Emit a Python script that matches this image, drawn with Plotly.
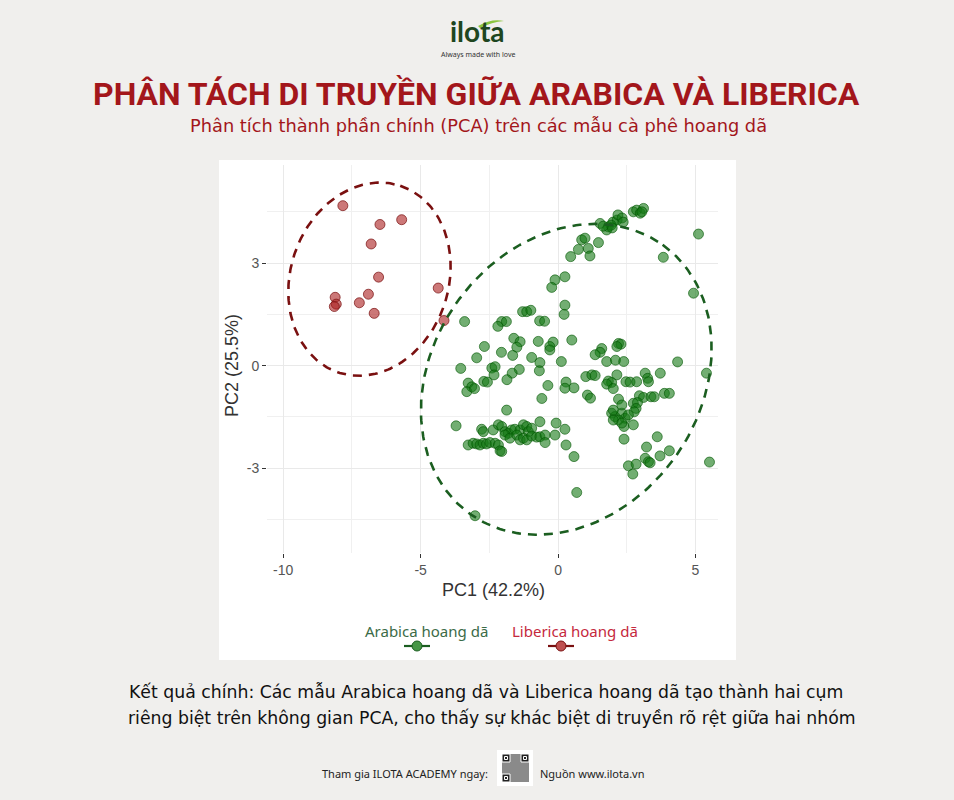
import numpy as np
import plotly.graph_objects as go

# ---------------- data (PC scores) ----------------
liberica_pc1 = [-7.83, -6.48, -5.69, -6.80, -6.53, -4.36, -8.11, -6.90, -7.23, -8.07, -8.14, -6.69, -4.15]
liberica_pc2 = [4.68, 4.13, 4.27, 3.56, 2.59, 2.27, 2.00, 2.09, 1.84, 1.80, 1.73, 1.53, 1.32]

arabica_pc1 = [
    1.53, 1.83, 1.77, 2.00, 2.15, 2.18, 2.33, 2.37, 1.93, 2.74, 2.86, 2.99, 3.11, 3.05, 1.97, 1.64,
    0.86, 0.98, 0.74, 1.10, 1.47, 1.16, 0.46, 5.11, 3.83, -0.11, 0.25, -0.23, 4.93, 0.25, 0.22,
    -1.29, -1.14, -0.99, -3.40, -2.05, -1.88, -2.19, -0.67, -0.49, -1.61, -1.38, -1.50, -0.72,
    -0.18, -0.30, -0.30, 0.50, -2.68, -2.06, -2.96, -1.65, -0.96, -0.66, -0.68, 0.12, -3.54,
    -2.41, -2.29, -2.33, -1.41, -1.67, -1.86, -3.27, -3.14, -3.32, -3.04, -2.70, -2.57, -0.37,
    0.29, 0.25, 0.58, -0.59, -1.87,
    2.20, 2.29, 2.14, 1.59, 1.53, 1.35, 1.77, 2.09, 2.39, 4.35, 5.40, 1.01, 1.23, 1.35, 1.83,
    1.95, 2.14, 1.77, 2.01, 2.47, 2.62, 2.86, 3.17, 3.26, 3.29, 3.72, 1.07, 1.18, 2.20, 2.96,
    3.11, 3.38, 3.50, 3.87, 4.05, 2.74, 2.89, 2.84, 2.77, 1.95, 2.07, 2.32, 2.44, 2.56, 2.20,
    2.01, 2.32, 2.01, 2.40, 2.74, 2.32, 2.40, 3.61, 3.22, 3.17, 3.29, 3.35, 3.71, 4.05, 2.56,
    2.84, 2.72, 5.51, 0.58, 0.68, -3.02,
    -3.71, -2.78, -2.72, -2.36, -2.17, -2.05, -1.93, -1.81, -1.69, -1.57, -1.38, -1.26, -1.14,
    -1.08, -0.96, -0.66, -0.07, 0.25, -3.27, -3.09, -2.96, -2.84, -2.72, -2.60, -2.48, -2.29,
    -2.17, -2.11, -2.05, -1.93, -1.75, -1.50, -1.38, -1.26, -1.14, -0.96, -0.78, -0.66, -0.47,
    -0.47, -0.11, 0.29,
]
arabica_pc2 = [
    4.16, 4.06, 3.97, 4.20, 4.26, 4.41, 4.32, 4.20, 4.11, 4.50, 4.55, 4.46, 4.60, 4.50, 4.03, 4.08,
    3.68, 3.73, 3.40, 3.43, 3.60, 3.21, 3.19, 3.85, 3.17, 2.51, 2.60, 2.29, 2.12, 1.77, 1.50,
    1.58, 1.58, 1.62, 1.29, 1.29, 1.29, 1.15, 1.31, 1.30, 0.80, 0.70, 0.54, 0.71,
    0.69, 0.56, 0.46, 0.75, 0.56, 0.39, 0.23, 0.30, 0.24, 0.09, -0.15, 0.12, -0.08,
    -0.07, -0.03, -0.27, -0.11, -0.22, -0.41, -0.51, -0.62, -0.76, -0.67, -0.46, -0.48, -0.58,
    -0.48, -0.66, -0.65, -0.96, -1.30,
    0.65, 0.63, 0.56, 0.50, 0.39, 0.32, 0.12, 0.16, 0.12, 0.11, -0.22, -0.32, -0.27, -0.29, -0.45,
    -0.49, -0.27, -0.54, -0.67, -0.47, -0.48, -0.47, -0.22, -0.37, -0.47, -0.22, -0.86, -0.95, -0.98, -0.88,
    -0.93, -0.91, -0.91, -0.81, -0.81, -1.10, -1.08, -1.25, -1.35, -1.39, -1.49, -1.39, -1.54, -1.44, -1.59,
    -1.59, -1.15, -1.30, -1.78, -1.73, -1.68, -2.15, -2.08, -2.38, -2.71, -2.81, -2.84, -2.64, -2.49, -2.93,
    -2.88, -3.17, -2.82, -2.66, -3.71, -4.39,
    -1.76, -1.86, -1.93, -1.88, -1.73, -1.78, -1.93, -1.98, -1.88, -1.86, -1.88, -1.73, -1.78,
    -1.93, -1.83, -1.64, -1.68, -1.86, -2.32, -2.27, -2.29, -2.32, -2.27, -2.29, -2.25, -2.27,
    -2.32, -2.49, -2.51, -2.03, -2.12, -2.03, -2.17, -2.12, -2.17, -2.06, -2.09, -2.08, -2.03,
    -2.25, -2.03, -2.32,
]

# confidence ellipses: centre and two semi-axis vectors (data units)
liberica_ell_center = (-6.86, 2.53)
liberica_ell_u = (1.118, 2.733)
liberica_ell_v = (2.735, -0.722)
arabica_ell_center = (0.30, -0.40)
arabica_ell_u = (3.506, 3.935)
arabica_ell_v = (3.960, -2.277)

x_ticks = [-10, -5, 0, 5]
x_ticklabels = ["-10", "-5", "0", "5"]
y_ticks = [-3, 0, 3]
y_ticklabels = ["-3", "0", "3"]
x_minor = [-7.5, -2.5, 2.5]
y_minor = [-4.5, -1.5, 1.5, 4.5]

# ---------------- layout geometry ----------------
W, H = 954, 800
L, R, T, B = 267, 718, 165, 553


def px(x):
    return (x - L) / (R - L)


def py(y):
    return (B - y) / (B - T)


def ellipse(center, u, v, n=240):
    t = np.linspace(0, 2 * np.pi, n)
    return (center[0] + u[0] * np.cos(t) + v[0] * np.sin(t),
            center[1] + u[1] * np.cos(t) + v[1] * np.sin(t))


fig = go.Figure()

fig.add_trace(go.Scatter(
    x=arabica_pc1, y=arabica_pc2, mode="markers", name="Arabica hoang dã",
    marker=dict(size=10, color="rgba(20,120,20,0.6)", line=dict(color="rgba(0,85,0,0.6)", width=1)),
    showlegend=False))
fig.add_trace(go.Scatter(
    x=liberica_pc1, y=liberica_pc2, mode="markers", name="Liberica hoang dã",
    marker=dict(size=10, color="rgba(170,30,30,0.6)", line=dict(color="rgba(120,15,15,0.7)", width=1)),
    showlegend=False))

ex, ey = ellipse(arabica_ell_center, arabica_ell_u, arabica_ell_v)
fig.add_trace(go.Scatter(x=ex, y=ey, mode="lines", hoverinfo="skip", showlegend=False,
                         line=dict(color="#1b5e20", width=2.6, dash="9px,7px")))
ex, ey = ellipse(liberica_ell_center, liberica_ell_u, liberica_ell_v)
fig.add_trace(go.Scatter(x=ex, y=ey, mode="lines", hoverinfo="skip", showlegend=False,
                         line=dict(color="#7a1010", width=2.6, dash="9px,7px")))

axis_common = dict(
    showgrid=True, gridcolor="#e9e9e9", gridwidth=1.2, zeroline=False, showline=False,
    ticks="outside", ticklen=4, tickwidth=1.2, tickcolor="#333333",
    tickfont=dict(family="Liberation Sans, Arial", size=14, color="#555555"),
)
fig.update_xaxes(range=[-10.59, 5.82], tickvals=x_ticks, ticktext=x_ticklabels,
                 minor=dict(tickvals=x_minor, showgrid=True, gridcolor="#f0f0f0", gridwidth=1.2, ticks=""),
                 **axis_common)
fig.update_yaxes(range=[-5.48, 5.87], tickvals=y_ticks, ticktext=y_ticklabels,
                 minor=dict(tickvals=y_minor, showgrid=True, gridcolor="#f0f0f0", gridwidth=1.2, ticks=""),
                 **axis_common)

shapes = [
    dict(type="rect", xref="paper", yref="paper", x0=px(219), x1=px(736), y0=py(660), y1=py(160),
         fillcolor="white", line=dict(width=0), layer="below"),
]
# legend keys (line + dot) below the legend labels
for cx, col, edge in [(417, "rgba(70,150,70,1)", "#1b5e20"), (561, "rgba(190,80,80,1)", "#7a1010")]:
    shapes.append(dict(type="line", xref="paper", yref="paper", x0=px(cx - 13), x1=px(cx + 13),
                       y0=py(646), y1=py(646), line=dict(color=edge, width=2.2)))
    shapes.append(dict(type="circle", xref="paper", yref="paper", x0=px(cx - 5), x1=px(cx + 5),
                       y0=py(651), y1=py(641), fillcolor=col, line=dict(color=edge, width=1)))
# QR code block in footer
shapes.append(dict(type="rect", xref="paper", yref="paper", x0=px(497), x1=px(533), y0=py(786), y1=py(750),
                   fillcolor="white", line=dict(width=0)))
shapes.append(dict(type="rect", xref="paper", yref="paper", x0=px(502), x1=px(529), y0=py(782), y1=py(754),
                   fillcolor="#8a8a8a", line=dict(width=0)))
for qx, qy in [(502, 754), (521, 754), (502, 774)]:
    shapes.append(dict(type="rect", xref="paper", yref="paper", x0=px(qx), x1=px(qx + 8), y0=py(qy + 8), y1=py(qy),
                       fillcolor="#222222", line=dict(color="white", width=1)))
    shapes.append(dict(type="rect", xref="paper", yref="paper", x0=px(qx + 2.5), x1=px(qx + 5.5),
                       y0=py(qy + 5.5), y1=py(qy + 2.5), fillcolor="#222222", line=dict(color="white", width=1)))
# logo leaf swoosh
shapes.append(dict(type="path", xref="paper", yref="paper",
                   path=f"M {px(478)},{py(26)} Q {px(492)},{py(18)} {px(504)},{py(21)} Q {px(492)},{py(22)} {px(480)},{py(28)} Z",
                   fillcolor="#8cc63f", line=dict(width=0)))


def ann(text, x, y, size, color, family="Noto Sans", xanchor="center", bold=False, angle=0):
    return dict(text=f"<b>{text}</b>" if bold else text, x=px(x), y=py(y), xref="paper", yref="paper",
                xanchor=xanchor, yanchor="middle", showarrow=False, textangle=angle, borderpad=0,
                font=dict(size=size, color=color, family=family))


annotations = [
    ann("ilota", 477, 31, 28, "#1e4620", family="Lato", bold=True),
    ann("Always made with love", 478, 55, 7, "#333333"),
    ann("PHÂN TÁCH DI TRUYỀN GIỮA ARABICA VÀ LIBERICA", 476, 94, 32, "#a3161b", family="Roboto", bold=True),
    ann("Phân tích thành phần chính (PCA) trên các mẫu cà phê hoang dã", 478, 125.5, 17.8, "#a3161b",
        family="DejaVu Sans"),
    ann("PC1 (42.2%)", 493, 590, 18, "#333333", family="Liberation Sans, Arial"),
    ann("PC2 (25.5%)", 232, 366, 18, "#333333", family="Liberation Sans, Arial", angle=-90),
    ann("Arabica hoang dã", 426, 631, 15, "#3b6b47"),
    ann("Liberica hoang dã", 575, 631, 15, "#c5283d"),
    ann("Kết quả chính: Các mẫu Arabica hoang dã và Liberica hoang dã tạo thành hai cụm", 128, 692, 17.3,
        "#111111", family="DejaVu Sans", xanchor="left"),
    ann("riêng biệt trên không gian PCA, cho thấy sự khác biệt di truyền rõ rệt giữa hai nhóm", 127, 718, 17.3,
        "#111111", family="DejaVu Sans", xanchor="left"),
    ann("Tham gia ILOTA ACADEMY ngay:", 405, 773, 11, "#222222"),
    ann("Nguồn www.ilota.vn", 592, 773, 11, "#222222"),
]

fig.update_layout(
    width=W, height=H, autosize=False,
    margin=dict(l=L, r=W - R, t=T, b=H - B, autoexpand=False),
    paper_bgcolor="#f0efed", plot_bgcolor="white",
    shapes=shapes, annotations=annotations, showlegend=False,
)

fig.write_html("out.html", config={"displayModeBar": False},
               post_script="document.body.style.margin='0';document.body.style.overflow='hidden';")
